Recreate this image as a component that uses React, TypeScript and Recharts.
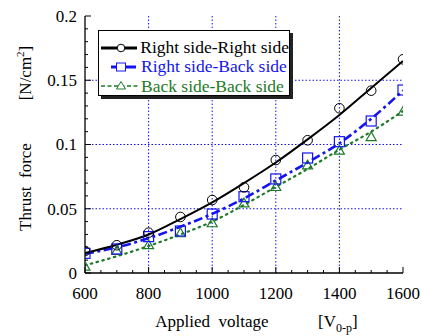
import React from 'react';
import { ComposedChart, Line, XAxis, YAxis, ReferenceLine, Legend } from 'recharts';

const voltages = [600, 700, 800, 900, 1000, 1100, 1200, 1300, 1400, 1500, 1600];
const rightRightMeasured = [0.0171, 0.0216, 0.0314, 0.0436, 0.0568, 0.0667, 0.0879, 0.1033, 0.1282, 0.1419, 0.1663];
const rightBackMeasured = [0.0153, 0.0187, 0.0283, 0.0327, 0.0459, 0.0594, 0.0732, 0.0895, 0.1022, 0.1183, 0.1424];
const backBackMeasured = [0.0049, 0.0171, 0.0216, 0.0309, 0.0387, 0.0542, 0.0669, 0.0838, 0.0952, 0.1058, 0.1255];
const rightRightFit = [0.0155, 0.022, 0.030, 0.042, 0.055, 0.070, 0.086, 0.104, 0.123, 0.144, 0.165];
const rightBackFit = [0.015, 0.020, 0.027, 0.036, 0.046, 0.058, 0.072, 0.086, 0.101, 0.120, 0.142];
const backBackFit = [0.006, 0.013, 0.021, 0.030, 0.040, 0.053, 0.067, 0.081, 0.096, 0.110, 0.126];

const seriesNames = ['Right side-Right side', 'Right side-Back side', 'Back side-Back side'];
const seriesColors = ['#000000', '#1414f0', '#1e7a28'];

const xTicks = [600, 650, 700, 750, 800, 850, 900, 950, 1000, 1050, 1100, 1150, 1200, 1250, 1300, 1350, 1400, 1450, 1500, 1550, 1600];
const xMajorTicks = [600, 800, 1000, 1200, 1400, 1600];
const xGridLines = [800, 1000, 1200, 1400];
const yTicks = [0, 0.01, 0.02, 0.03, 0.04, 0.05, 0.06, 0.07, 0.08, 0.09, 0.1, 0.11, 0.12, 0.13, 0.14, 0.15, 0.16, 0.17, 0.18, 0.19, 0.2];
const yMajorTicks = [0, 0.05, 0.1, 0.15, 0.2];
const yMajorLabels = ['0', '0.05', '0.1', '0.15', '0.2'];
const yGridLines = [0.05, 0.1, 0.15];

const data = voltages.map((v, i) => ({
  v,
  rrM: rightRightMeasured[i],
  rbM: rightBackMeasured[i],
  bbM: backBackMeasured[i],
  rrF: rightRightFit[i],
  rbF: rightBackFit[i],
  bbF: backBackFit[i],
}));

const FONT = "'Liberation Serif', 'Times New Roman', serif";
const isMajor = (arr: number[], v: number) => arr.some((m) => Math.abs(m - v) < 1e-9);

const BottomTick = (p: any) => {
  const { x, y, payload } = p;
  const major = isMajor(xMajorTicks, payload.value);
  return (
    <g>
      <line x1={x} x2={x} y1={y} y2={y - (major ? 6 : 3)} stroke="#000" strokeWidth={1} />
      {major && (
        <text x={x} y={y + 26} textAnchor="middle" fontFamily={FONT} fontSize={17} fill="#000">
          {payload.value}
        </text>
      )}
    </g>
  );
};
const TopTick = (p: any) => {
  const { x, y, payload } = p;
  const major = isMajor(xMajorTicks, payload.value);
  return <line x1={x} x2={x} y1={y} y2={y + (major ? 6 : 3)} stroke="#000" strokeWidth={1} />;
};
const LeftTick = (p: any) => {
  const { x, y, payload } = p;
  const idx = yMajorTicks.findIndex((m) => Math.abs(m - payload.value) < 1e-9);
  const major = idx >= 0;
  return (
    <g>
      <line x1={x} x2={x + (major ? 6 : 3)} y1={y} y2={y} stroke="#000" strokeWidth={1} />
      {major && (
        <text x={x - 8} y={y} dy="0.35em" textAnchor="end" fontFamily={FONT} fontSize={17} fill="#000">
          {yMajorLabels[idx]}
        </text>
      )}
    </g>
  );
};
const RightTick = (p: any) => {
  const { x, y, payload } = p;
  const major = isMajor(yMajorTicks, payload.value);
  return <line x1={x} x2={x - (major ? 6 : 3)} y1={y} y2={y} stroke="#000" strokeWidth={1} />;
};

const XTitle = (p: any) => {
  const vb = p.viewBox;
  const cx = vb.x + vb.width / 2;
  const by = vb.y + 54;
  return (
    <g fontFamily={FONT} fontSize={17} fill="#000">
      <text x={cx - 32} y={by} textAnchor="middle" style={{ whiteSpace: 'pre' }}>
        {'Applied  voltage'}
      </text>
      <text x={vb.x + 233} y={by} textAnchor="start">
        [V<tspan dy={5} fontSize={12}>0-p</tspan>
        <tspan dy={-5}>]</tspan>
      </text>
    </g>
  );
};

const YTitle = (p: any) => {
  const vb = p.viewBox;
  const bx = vb.x + 6;
  const y1 = 187;
  const y2 = 73;
  return (
    <g fontFamily={FONT} fontSize={17} fill="#000">
      <text x={bx} y={y1} transform={`rotate(-90, ${bx}, ${y1})`} textAnchor="middle" style={{ whiteSpace: 'pre' }}>
        {'Thrust  force'}
      </text>
      <text x={bx} y={y2} transform={`rotate(-90, ${bx}, ${y2})`} textAnchor="middle">
        [N/cm<tspan dy={-7} fontSize={11}>2</tspan>
        <tspan dy={7}>]</tspan>
      </text>
    </g>
  );
};

const CircleDot = (r: number, color: string) => (p: any) =>
  <circle key={`c${p.index}`} cx={p.cx} cy={p.cy} r={r} fill="none" stroke={color} strokeWidth={1} />;
const SquareDot = (s: number, color: string) => (p: any) =>
  <rect key={`s${p.index}`} x={p.cx - s / 2} y={p.cy - s / 2} width={s} height={s} fill="none" stroke={color} strokeWidth={1.2} />;
const TriDot = (s: number, color: string) => (p: any) => {
  const h = s * 0.87;
  return (
    <polygon
      key={`t${p.index}`}
      points={`${p.cx},${p.cy - h * 0.6} ${p.cx - s / 2},${p.cy + h * 0.4} ${p.cx + s / 2},${p.cy + h * 0.4}`}
      fill="none"
      stroke={color}
      strokeWidth={1.2}
    />
  );
};

const LegendSample = ({ i }: { i: number }) => {
  const c = seriesColors[i];
  return (
    <svg width={38} height={18} style={{ display: 'block' }}>
      {i === 0 && (
        <>
          <line x1={1} x2={38} y1={9} y2={9} stroke={c} strokeWidth={3} />
          <circle cx={21} cy={9} r={3.8} fill="#fff" stroke={c} strokeWidth={1} />
        </>
      )}
      {i === 1 && (
        <>
          <line x1={11} x2={36} y1={9} y2={9} stroke={c} strokeWidth={3} />
          <rect x={16.5} y={5} width={9} height={8} fill="#fff" stroke={c} strokeWidth={1} />
        </>
      )}
      {i === 2 && (
        <>
          <line x1={1} x2={38} y1={9} y2={9} stroke={c} strokeWidth={1.6} strokeDasharray="4 2.5" />
          <polygon points="21,4.5 16.5,12 25.5,12" fill="#fff" stroke={c} strokeWidth={1} />
        </>
      )}
    </svg>
  );
};

const LegendBox = () => (
  <div
    style={{
      width: 192,
      height: 66,
      border: '1px solid #000',
      boxShadow: '3px 3px 0 #222',
      background: '#fff',
      boxSizing: 'border-box',
      paddingTop: 7,
      fontFamily: FONT,
      fontSize: 17.5,
    }}
  >
    {seriesNames.map((n, i) => (
      <div key={n} style={{ display: 'flex', alignItems: 'center', height: 19.3, paddingLeft: 1 }}>
        <LegendSample i={i} />
        <span style={{ color: seriesColors[i], marginLeft: 3, lineHeight: '19px', whiteSpace: 'nowrap' }}>{n}</span>
      </div>
    ))}
  </div>
);

export default function App() {
  return (
    <div style={{ position: 'absolute', left: 0, top: 0, background: '#fff' }}>
      <ComposedChart width={422} height={336} data={data} margin={{ top: 16, right: 19, bottom: 33, left: 25 }}>
        <XAxis
          xAxisId="b"
          dataKey="v"
          type="number"
          domain={[600, 1600]}
          ticks={xTicks}
          interval={0}
          tick={BottomTick}
          tickSize={0}
          tickMargin={0}
          tickLine={false}
          axisLine={{ stroke: '#000', strokeWidth: 1.3 }}
          height={30}
          allowDataOverflow
          label={{ content: XTitle }}
        />
        <XAxis
          xAxisId="t"
          orientation="top"
          dataKey="v"
          type="number"
          domain={[600, 1600]}
          ticks={xTicks}
          interval={0}
          tick={TopTick}
          tickSize={0}
          tickMargin={0}
          tickLine={false}
          axisLine={{ stroke: '#000', strokeWidth: 1.3 }}
          height={0}
          allowDataOverflow
        />
        <YAxis
          yAxisId="l"
          type="number"
          domain={[0, 0.2]}
          ticks={yTicks}
          interval={0}
          tick={LeftTick}
          tickSize={0}
          tickMargin={0}
          tickLine={false}
          axisLine={{ stroke: '#000', strokeWidth: 1.3 }}
          width={60}
          allowDataOverflow
          label={{ content: YTitle }}
        />
        <YAxis
          yAxisId="r"
          orientation="right"
          type="number"
          domain={[0, 0.2]}
          ticks={yTicks}
          interval={0}
          tick={RightTick}
          tickSize={0}
          tickMargin={0}
          tickLine={false}
          axisLine={{ stroke: '#000', strokeWidth: 1.3 }}
          width={0}
          allowDataOverflow
        />
        {xGridLines.map((g) => (
          <ReferenceLine key={`x${g}`} x={g} xAxisId="b" yAxisId="l" stroke="#1010ff" strokeDasharray="1.5 2" strokeWidth={1} />
        ))}
        {yGridLines.map((g) => (
          <ReferenceLine key={`y${g}`} y={g} xAxisId="b" yAxisId="l" stroke="#1010ff" strokeDasharray="1.5 2" strokeWidth={1} />
        ))}
        <Line xAxisId="b" yAxisId="l" dataKey="bbF" type="monotone" stroke={seriesColors[2]} strokeWidth={2.2} strokeDasharray="1.5 4.5" strokeLinecap="round" dot={false} isAnimationActive={false} legendType="none" />
        <Line xAxisId="b" yAxisId="l" dataKey="rbF" type="monotone" stroke={seriesColors[1]} strokeWidth={2.6} strokeDasharray="9 3.5 3 3.5" dot={false} isAnimationActive={false} legendType="none" />
        <Line xAxisId="b" yAxisId="l" dataKey="rrF" type="monotone" stroke={seriesColors[0]} strokeWidth={2} dot={false} isAnimationActive={false} legendType="none" />
        <Line xAxisId="b" yAxisId="l" dataKey="bbM" stroke="none" dot={TriDot(10, seriesColors[2])} isAnimationActive={false} legendType="none" />
        <Line xAxisId="b" yAxisId="l" dataKey="rbM" stroke="none" dot={SquareDot(10, seriesColors[1])} isAnimationActive={false} legendType="none" />
        <Line xAxisId="b" yAxisId="l" dataKey="rrM" stroke="none" dot={CircleDot(4.8, seriesColors[0])} isAnimationActive={false} legendType="none" />
        <Legend
          layout="vertical"
          align="center"
          verticalAlign="middle"
          content={LegendBox}
          wrapperStyle={{ left: 98, top: 30, width: 'auto', height: 'auto' }}
        />
      </ComposedChart>
    </div>
  );
}
